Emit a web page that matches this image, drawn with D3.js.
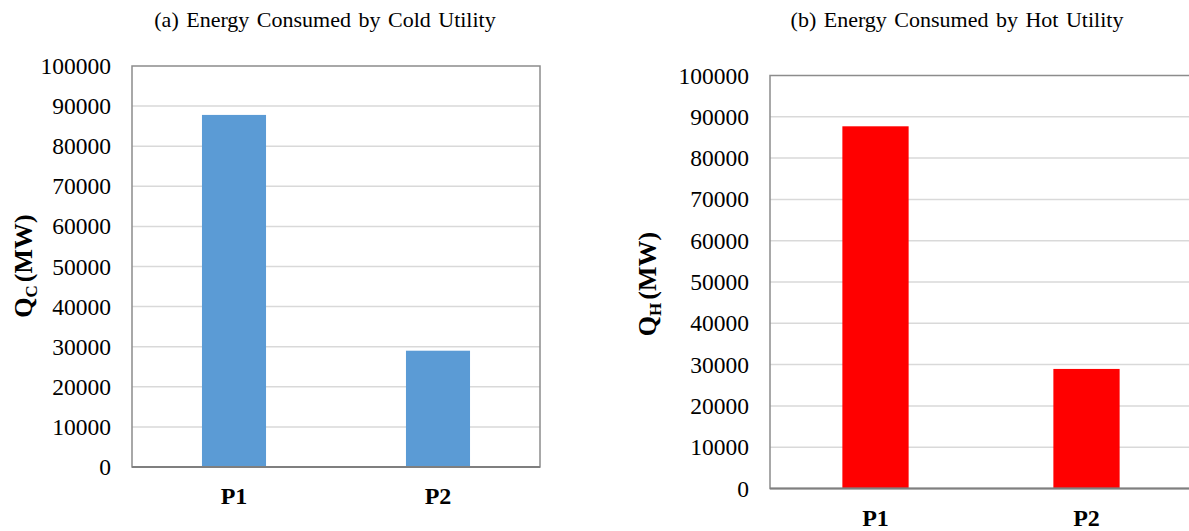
<!DOCTYPE html>
<html>
<head>
<meta charset="utf-8">
<script src="https://cdn.jsdelivr.net/npm/d3@7"></script>
<style>
  html, body { margin: 0; padding: 0; background: #fff; }
  svg { display: block; }
  text { font-family: "Liberation Serif", "Times New Roman", serif; fill: #000; }
</style>
</head>
<body>
<svg id="chart" width="1189" height="531"></svg>
<script>
// ---- data ----
const categories = ["P1", "P2"];
const coldValues = [87800, 29000];
const hotValues = [87700, 28950];
const yTicks = [0, 10000, 20000, 30000, 40000, 50000, 60000, 70000, 80000, 90000, 100000];
const titles = ["(a) Energy Consumed by Cold Utility", "(b) Energy Consumed by Hot Utility"];
const yTitleSubs = ["C", "H"];

const svg = d3.select("#chart");

function panel(opt) {
  const g = svg.append("g");
  const x = d3.scaleBand().domain(categories).range([opt.x0, opt.x1])
    .paddingInner(0.686).paddingOuter(0.343);
  const y = d3.scaleLinear().domain([0, 100000]).range([opt.y1, opt.y0]);

  // gridlines
  g.append("g").selectAll("line").data(yTicks.filter(d => d > 0 && d < 100000)).join("line")
    .attr("x1", opt.x0).attr("x2", opt.x1)
    .attr("y1", d => y(d)).attr("y2", d => y(d))
    .attr("stroke", "#d9d9d9").attr("stroke-width", 1.5);

  // bars
  g.append("g").selectAll("rect").data(opt.values).join("rect")
    .attr("x", (d, i) => x(categories[i]))
    .attr("width", x.bandwidth())
    .attr("y", d => y(d))
    .attr("height", d => y(0) - y(d))
    .attr("fill", opt.color);

  // plot border
  g.append("rect")
    .attr("x", opt.x0).attr("y", y(100000))
    .attr("width", opt.x1 - opt.x0).attr("height", y(0) - y(100000))
    .attr("fill", "none").attr("stroke", "#8c8c8c").attr("stroke-width", 1.5);
  g.append("line").attr("x1", opt.x0).attr("x2", opt.x1)
    .attr("y1", y(0)).attr("y2", y(0))
    .attr("stroke", "#7f7f7f").attr("stroke-width", 2);

  // y axis labels
  const yAxis = d3.axisLeft(y).tickValues(yTicks).tickSize(0).tickPadding(21).tickFormat(d3.format("d"));
  const ya = g.append("g").attr("transform", `translate(${opt.x0},0)`).call(yAxis);
  ya.select(".domain").remove();
  ya.selectAll("text").attr("font-family", "Liberation Serif").attr("font-size", 23.5).attr("fill", "#000");

  // x axis labels
  const xAxis = d3.axisBottom(x).tickSize(0).tickPadding(opt.xPad);
  const xa = g.append("g").attr("transform", `translate(0,${y(0)})`).call(xAxis);
  xa.select(".domain").remove();
  xa.selectAll("text").attr("font-family", "Liberation Serif").attr("font-size", 24)
    .attr("font-weight", "bold").attr("fill", "#000");

  // title
  g.append("text").attr("x", opt.titleX).attr("y", 27).attr("text-anchor", "middle")
    .attr("font-size", 22).attr("word-spacing", 2).text(opt.title);

  // y title
  const t = g.append("text")
    .attr("transform", `translate(${opt.ytX},${opt.ytY}) rotate(-90)`)
    .attr("text-anchor", "middle").attr("font-size", 26).attr("font-weight", "bold");
  t.append("tspan").text("Q");
  t.append("tspan").attr("font-size", 17).attr("dy", 5).text(opt.sub);
  t.append("tspan").attr("dy", -5).attr("dx", 3).text("(MW)");
}

panel({x0: 132, x1: 540, y0: 66, y1: 467, values: coldValues, color: "#5b9bd5",
  title: titles[0], titleX: 325, sub: yTitleSubs[0], ytX: 32, ytY: 266, xPad: 20});
panel({x0: 770, x1: 1192, y0: 75.5, y1: 488.5, values: hotValues, color: "#ff0000",
  title: titles[1], titleX: 957, sub: yTitleSubs[1], ytX: 656, ytY: 284, xPad: 20});
</script>
</body>
</html>
